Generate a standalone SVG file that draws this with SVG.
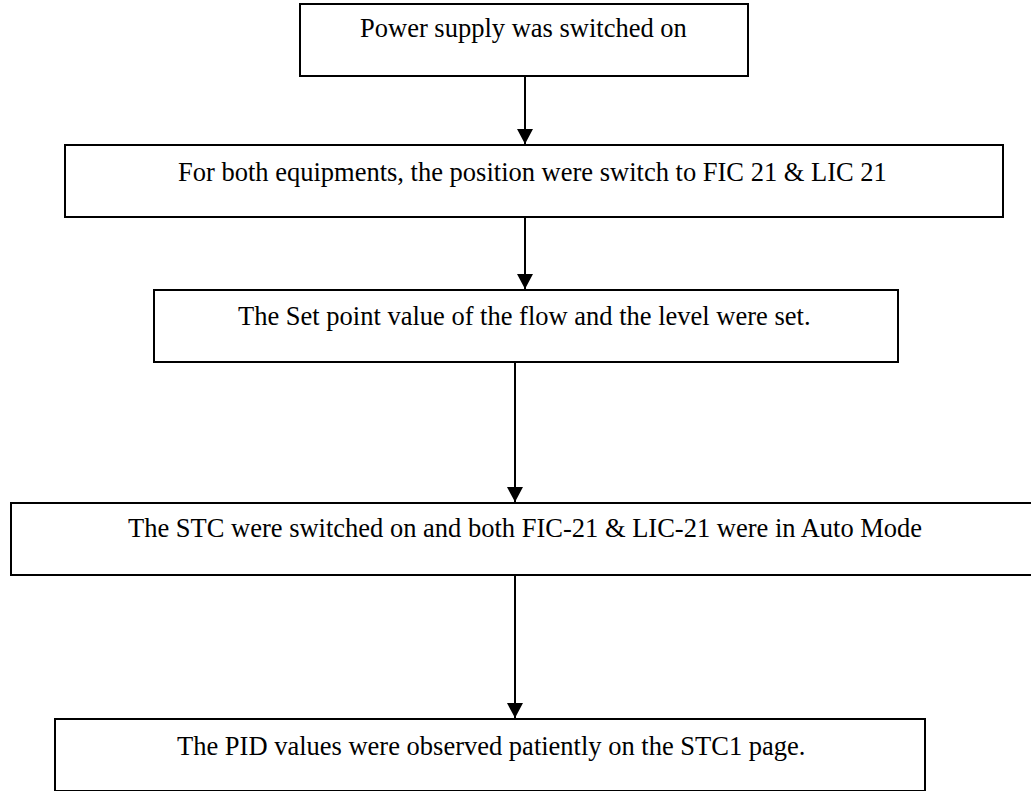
<svg xmlns="http://www.w3.org/2000/svg" width="1031" height="791" viewBox="0 0 1031 791">
<style>
.box{fill:#fff;stroke:#000;stroke-width:2}
.t{font-family:"Liberation Serif","Times New Roman",serif;font-size:26.5px;fill:#000}
.c{stroke:#000;stroke-width:2;fill:none}
</style>
<defs>
<marker id="ah" markerWidth="8" markerHeight="8" refX="7.5" refY="4" orient="auto" markerUnits="strokeWidth">
<path d="M0,0 L7.5,4 L0,8 Z" fill="#000"/>
</marker>
</defs>
<rect width="1031" height="791" fill="#fff"/>
<g id="n1"><rect class="box" x="300" y="4" width="448" height="72"/><text class="t" x="360" y="37">Power supply was switched on</text></g>
<g id="n2"><rect class="box" x="65" y="145" width="938" height="72"/><text class="t" x="178" y="181">For both equipments, the position were switch to FIC 21 &amp; LIC 21</text></g>
<g id="n3"><rect class="box" x="154" y="290" width="744" height="72"/><text class="t" x="238" y="325">The Set point value of the flow and the level were set.</text></g>
<g id="n4"><rect class="box" x="11" y="503" width="1030" height="72"/><text class="t" x="128" y="537">The STC were switched on and both FIC-21 &amp; LIC-21 were in Auto Mode</text></g>
<g id="n5"><rect class="box" x="55" y="719" width="870" height="72"/><text class="t" x="177" y="755">The PID values were observed patiently on the STC1 page.</text></g>
<g id="connectors">
<line class="c" x1="525" y1="76" x2="525" y2="144" marker-end="url(#ah)"/>
<line class="c" x1="525" y1="217" x2="525" y2="289" marker-end="url(#ah)"/>
<line class="c" x1="515" y1="362" x2="515" y2="502" marker-end="url(#ah)"/>
<line class="c" x1="515" y1="575" x2="515" y2="718" marker-end="url(#ah)"/>
</g>
</svg>
